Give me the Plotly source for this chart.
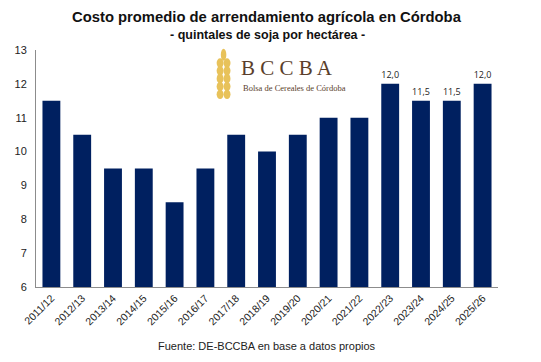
import plotly.graph_objects as go

seasons = ["2011/12", "2012/13", "2013/14", "2014/15", "2015/16", "2016/17", "2017/18",
           "2018/19", "2019/20", "2020/21", "2021/22", "2022/23", "2023/24", "2024/25", "2025/26"]
values = [11.5, 10.5, 9.5, 9.5, 8.5, 9.5, 10.5, 10.0, 10.5, 11.0, 11.0, 12.0, 11.5, 11.5, 12.0]
labels = ["", "", "", "", "", "", "", "", "", "", "", "12,0", "11,5", "11,5", "12,0"]
y_ticks = [6, 7, 8, 9, 10, 11, 12, 13]
base_value = 6

fig = go.Figure()
fig.add_trace(go.Bar(
    x=seasons, y=[v - base_value for v in values],
    text=labels, textposition="outside", cliponaxis=False,
    textfont=dict(family="Open Sans, Arial", size=11, color="#222222"),
    marker=dict(color="#002060", line=dict(width=0)),
    width=0.58,
))

# page body has an 8px margin, so the figure is 8px smaller and margins shifted
fig.update_layout(
    width=533, height=354,
    margin=dict(l=28, r=43, t=42, b=75),
    paper_bgcolor="white", plot_bgcolor="white",
    showlegend=False,
    xaxis=dict(
        tickangle=-45, tickfont=dict(family="Arial, Liberation Sans", size=10.5, color="#222222"),
        showline=True, linecolor="#8c8c8c", linewidth=1, ticks="",
        showgrid=False, automargin=False,
    ),
    yaxis=dict(
        tickmode="array", tickvals=[t - base_value for t in y_ticks],
        ticktext=[str(t) for t in y_ticks], range=[0, 7],
        tickfont=dict(family="Arial, Liberation Sans", size=11, color="#222222"),
        showline=True, linecolor="#8c8c8c", linewidth=1, ticks="", ticklabelstandoff=6,
        showgrid=False, zeroline=False, automargin=False,
    ),
)

# Titles
fig.add_annotation(xref="paper", yref="paper", x=0.5, y=1.139, xanchor="center", yanchor="middle",
                   text="<b>Costo promedio de arrendamiento agrícola en Córdoba</b>", showarrow=False,
                   font=dict(family="Arial, Liberation Sans", size=14.8, color="#111111"))
fig.add_annotation(xref="paper", yref="paper", x=0.5, y=1.063, xanchor="center", yanchor="middle",
                   text="<b>- quintales de soja por hectárea -</b>", showarrow=False,
                   font=dict(family="Arial, Liberation Sans", size=12.5, color="#111111"))

# Logo (text)
fig.add_annotation(xref="paper", yref="paper", x=0.44, y=0.924, xanchor="left", yanchor="middle",
                   text="B C C B A", showarrow=False,
                   font=dict(family="Liberation Serif, DejaVu Serif", size=21, color="#5a3e2b"))
fig.add_annotation(xref="paper", yref="paper", x=0.443, y=0.84, xanchor="left", yanchor="middle",
                   text="Bolsa de Cereales de Córdoba", showarrow=False,
                   font=dict(family="Liberation Serif, DejaVu Serif", size=8.5, color="#5a3e2b"))
# Wheat ear drawn with ellipses
wheat = "#e8c25a"
for i in range(5):
    yc = 0.965 - i * 0.033
    fig.add_shape(type="circle", xref="paper", yref="paper",
                  x0=0.391, x1=0.406, y0=yc - 0.04, y1=yc,
                  fillcolor=wheat, line=dict(width=0), layer="above")
    fig.add_shape(type="circle", xref="paper", yref="paper",
                  x0=0.406, x1=0.421, y0=yc - 0.04, y1=yc,
                  fillcolor=wheat, line=dict(width=0), layer="above")
fig.add_shape(type="circle", xref="paper", yref="paper",
              x0=0.4, x1=0.412, y0=0.955, y1=1.005,
              fillcolor=wheat, line=dict(width=0), layer="above")

fig.add_annotation(xref="paper", yref="paper", x=0.5, y=-0.249, xanchor="center", yanchor="middle",
                   text="Fuente: DE-BCCBA en base a datos propios", showarrow=False,
                   font=dict(family="Arial, Liberation Sans", size=11, color="#222222"))

fig.write_html("out.html")
